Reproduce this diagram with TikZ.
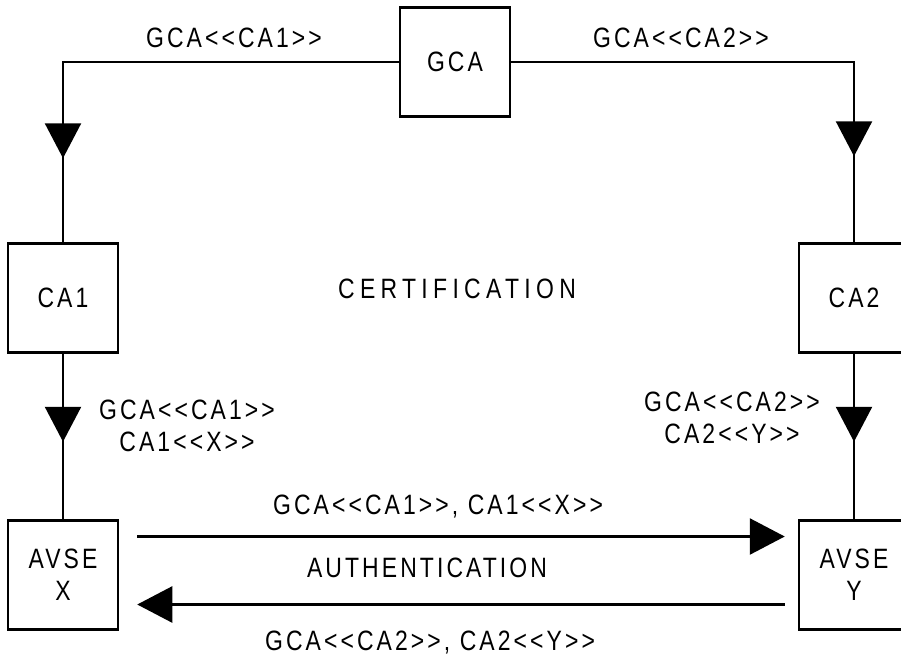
\documentclass[tikz,border=0pt]{standalone}
\usepackage{fontspec}
\setmainfont{Liberation Sans}[FakeStretch=0.82, LetterSpace=11]
\usetikzlibrary{arrows.meta,decorations.markings}

% certificate of #2 signed by #1
\newcommand{\certof}[2]{#1<{}<#2>{}>}

\tikzset{
  box/.style={draw, minimum width=110pt, minimum height=109pt, inner sep=2pt, align=center},
  lbl/.style={align=center, inner sep=0pt},
  bigtip/.tip={Triangle[length=35pt, width=36pt]},
  midtip/.style={postaction={decorate, decoration={markings, mark=at position #1 with {\arrow{bigtip}}}}}
}

\begin{document}
\begin{tikzpicture}[x=1pt, y=-1pt, line width=2.5pt, every node/.style={font=\fontsize{28}{32}\selectfont}]
	\useasboundingbox (0,0) rectangle (901,659);

	% Draw the boxes
	\node[box] (GCA) at (455,62) {GCA};
	\node[box] (CA1) at (63,298) {CA1};
	\node[box] (CA2) at (854,298) {CA2};
	\node[box] (AX) at (63,575) {AVSE\\X};
	\node[box] (AY) at (854,575) {AVSE\\Y};

	% Draw the certification lines
	\draw[midtip=432pt] (GCA.west) -| (CA1.north);
	\draw[midtip=437pt] (GCA.east) -| (CA2.north);
	\draw[midtip=88pt] (CA1.south) -- (AX.north);
	\draw[midtip=88pt] (CA2.south) -- (AY.north);

	% Draw the authentication arrows
	\draw[-{bigtip}, shorten <=18pt, shorten >=13pt] ([yshift=38.5pt]AX.east) -- ([yshift=38.5pt]AY.west);
	\draw[-{bigtip}, shorten <=13pt, shorten >=18pt] ([yshift=-29.5pt]AY.west) -- ([yshift=-29.5pt]AX.east);

	% Labels
	\node[lbl] (l1) at (234,38) {\certof{GCA}{CA1}};
	\node[lbl] (l2) at (681,38) {\certof{GCA}{CA2}};
	\node[lbl] (cert) at (457,289) {\addfontfeature{LetterSpace=19}CERTIFICATION};
	\node[lbl] (l3) at (187,426) {\certof{GCA}{CA1}\\\certof{CA1}{X}};
	\node[lbl] (l4) at (732,418) {\certof{GCA}{CA2}\\\certof{CA2}{Y}};
	\node[lbl] (l5) at (438,507) {\certof{GCA}{CA1}, \certof{CA1}{X}};
	\node[lbl] (auth) at (427,568) {AUTHENTICATION};
	\node[lbl] (l6) at (430,643) {\certof{GCA}{CA2}, \certof{CA2}{Y}};
\end{tikzpicture}
\end{document}
